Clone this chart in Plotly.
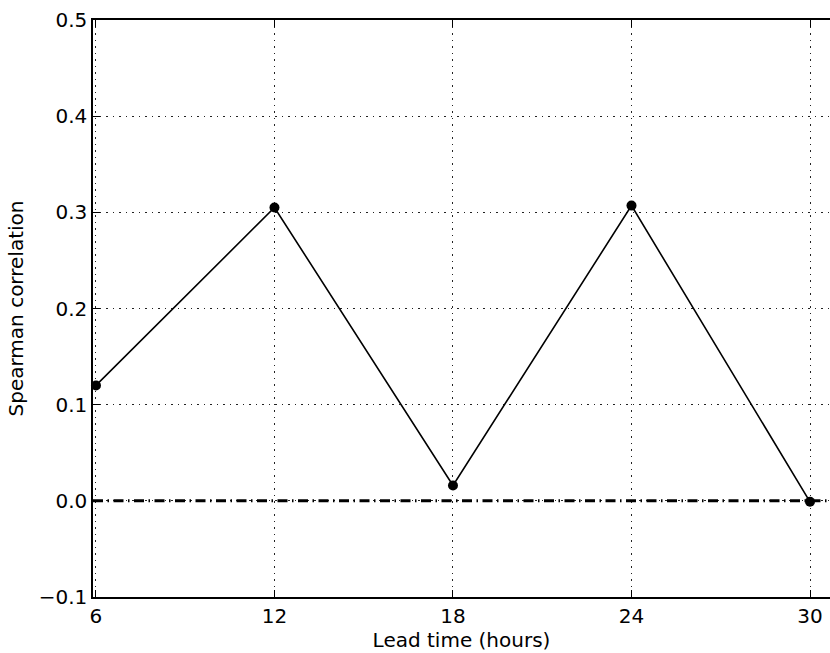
import plotly.graph_objects as go

# Spearman correlation against forecast lead time
lead_hours = [6, 12, 18, 24, 30]
spearman = [0.120, 0.305, 0.016, 0.307, -0.001]

x_ticks = [6, 12, 18, 24, 30]
y_ticks = [-0.1, 0.0, 0.1, 0.2, 0.3, 0.4, 0.5]
y_tick_text = ["\u22120.1", "0.0", "0.1", "0.2", "0.3", "0.4", "0.5"]

font = dict(family="DejaVu Sans", size=20, color="black")

fig = go.Figure()

# reference line at zero correlation
fig.add_hline(y=0, line=dict(color="black", width=3, dash="10px,4.5px,1.5px,4.5px"), layer="above")

fig.add_trace(go.Scatter(
    x=lead_hours, y=spearman,
    mode="lines+markers",
    line=dict(color="black", width=1.6),
    marker=dict(color="black", size=10),
    cliponaxis=False,
    showlegend=False,
))

fig.update_layout(
    width=830, height=653,
    margin=dict(l=93, r=0, t=20, b=56),
    paper_bgcolor="white", plot_bgcolor="white",
    font=font,
)

grid = dict(showgrid=True, gridcolor="#222", gridwidth=1, griddash="1.5px,5px")

fig.update_xaxes(
    range=[5.9, 30.672],
    tickvals=x_ticks, ticktext=[str(v) for v in x_ticks],
    ticks="inside", ticklen=7, tickwidth=1, tickcolor="black",
    showline=True, linecolor="black", linewidth=1.5, mirror="ticks",
    zeroline=False,
    title=dict(text="Lead time (hours)", font=font, standoff=4),
    tickfont=font,
    **grid,
)
fig.update_yaxes(
    range=[-0.1, 0.5],
    tickvals=y_ticks, ticktext=y_tick_text,
    ticks="inside", ticklen=7, tickwidth=1, tickcolor="black",
    showline=True, linecolor="black", linewidth=1.5, mirror=False,
    zeroline=False,
    title=dict(text="Spearman correlation", font=font, standoff=10),
    tickfont=font,
    **grid,
)

fig.write_html("out.html")
